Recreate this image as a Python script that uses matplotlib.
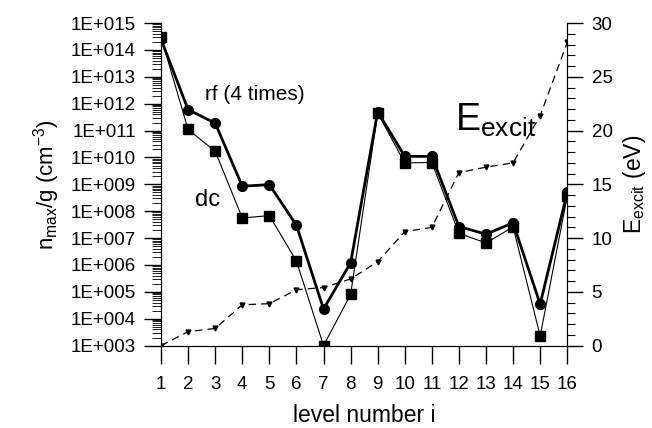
import matplotlib
matplotlib.use("Agg")
import matplotlib.pyplot as plt
from matplotlib.ticker import LogLocator, FixedLocator, MultipleLocator, NullFormatter
import numpy as np

plt.rcParams['font.family'] = ['Liberation Sans', 'DejaVu Sans']

# level numbers
levels = np.arange(1, 17)

# n_max/g (cm^-3), rf discharge (4 times)
rf = [2.5e14, 6e11, 1.9e11, 8.5e8, 9.8e8, 3e7, 2.3e4, 1.2e6,
      5e11, 1.1e10, 1.1e10, 2.7e7, 1.4e7, 3.7e7, 3.5e4, 5e8]

# n_max/g (cm^-3), dc discharge
dc = [3e14, 1.1e11, 1.7e10, 5.6e7, 6.9e7, 1.4e6, 1e3, 8e4,
      4.5e11, 6.3e9, 6.5e9, 1.5e7, 6.6e6, 2.6e7, 2.3e3, 3.6e8]

# excitation energy (eV)
e_excit = [0.0, 1.3, 1.6, 3.8, 3.9, 5.2, 5.4, 6.2,
           7.8, 10.6, 11.0, 16.1, 16.6, 17.0, 21.4, 28.2]

left_ticks = [10.0**k for k in range(3, 16)]
left_labels = ["1E+%03d" % k for k in range(3, 16)]

fig = plt.figure(figsize=(6.52, 4.28), dpi=100)
ax = fig.add_axes([0.247, 0.1925, 0.623, 0.7535])

ax.plot(levels, dc, color="black", lw=0.8, marker="s", ms=6.5, zorder=3)
ax.plot(levels, rf, color="black", lw=2.0, marker="o", ms=7, zorder=4)

ax.set_yscale("log")
ax.set_xlim(1, 16)
ax.set_ylim(1e3, 1e15)
ax.yaxis.set_major_locator(FixedLocator(left_ticks))
ax.set_yticklabels(left_labels)
ax.yaxis.set_minor_locator(LogLocator(base=10, subs=np.arange(2, 10), numticks=20))
ax.yaxis.set_minor_formatter(NullFormatter())
ax.set_xticks(levels)
ax.tick_params(axis="y", which="major", direction="out", length=12, width=1, labelsize=13.5, pad=6)
ax.tick_params(axis="y", which="minor", direction="out", length=6.5, width=0.6)
ax.tick_params(axis="x", which="major", direction="out", length=13, width=1, labelsize=13.5, pad=9)
ax.spines["top"].set_visible(False)
ax.set_xlabel("level number i", fontsize=16.5, labelpad=8)
ax.set_ylabel(r"n$_{\mathregular{max}}$/g (cm$^{\mathregular{-3}}$)", fontsize=16, labelpad=6)

ax2 = ax.twinx()
ax2.plot(levels, e_excit, color="black", lw=0.9, ls=(0, (6, 4)), marker="v", ms=3.5, zorder=2)
ax2.set_ylim(0, 30)
ax2.yaxis.set_major_locator(MultipleLocator(5))
ax2.yaxis.set_minor_locator(MultipleLocator(1))
ax2.tick_params(axis="y", which="major", direction="out", length=11.5, width=1, labelsize=13.5, pad=6)
ax2.tick_params(axis="y", which="minor", direction="out", length=6, width=0.8)
ax2.spines["top"].set_visible(False)
ax2.set_ylabel(r"E$_{\mathregular{excit}}$ (eV)", fontsize=16.5, labelpad=6)

ax.text(4.45, 2.2e12, "rf (4 times)", fontsize=15, ha="center", va="center")
ax.text(2.7, 2.7e8, "dc", fontsize=17, ha="center", va="center")
ax2.text(11.85, 21.0, r"E$_{\mathregular{excit}}$", fontsize=27, ha="left", va="center")

fig.savefig("out.png", dpi=100)
